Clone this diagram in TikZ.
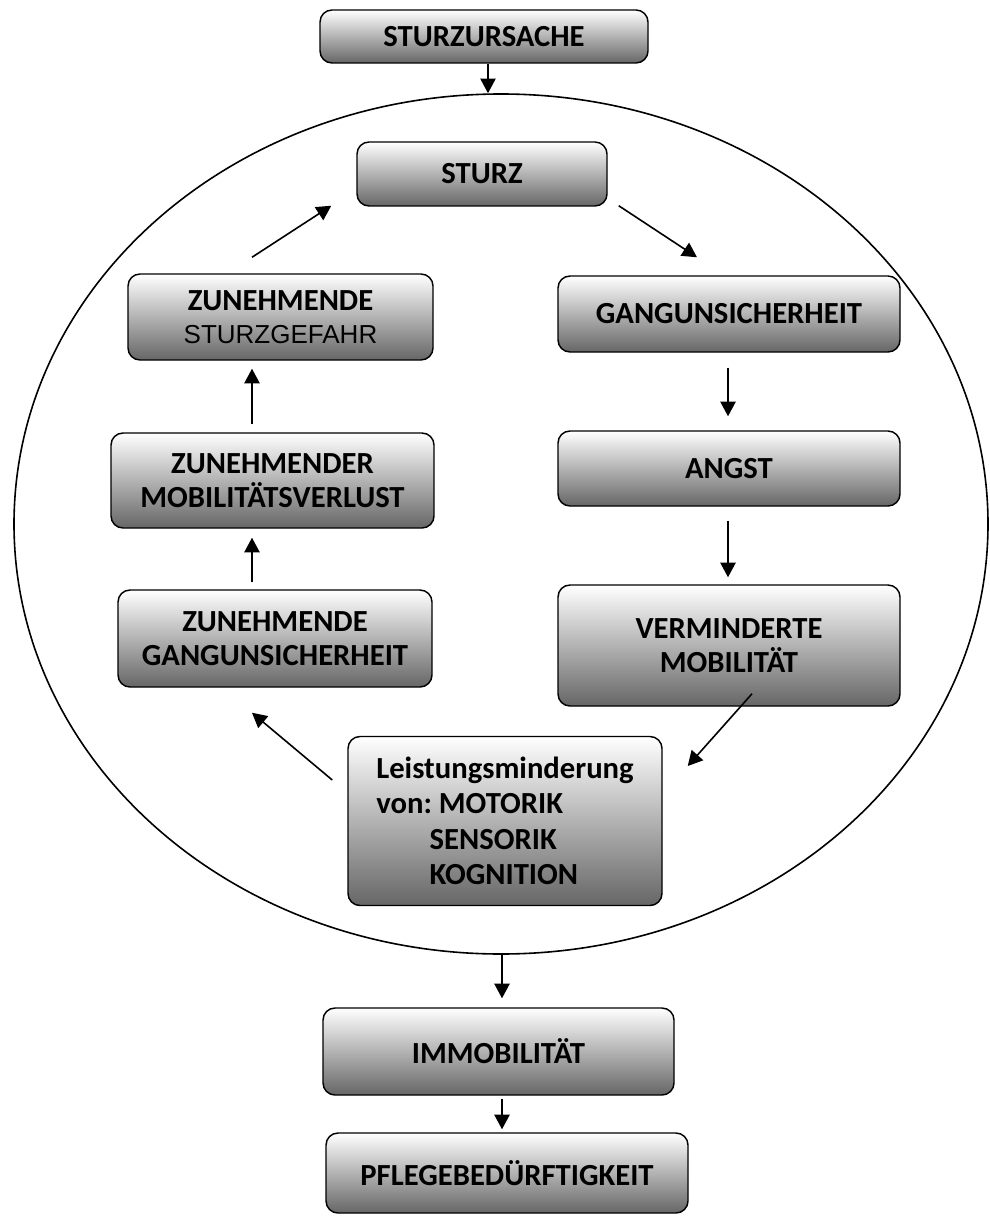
\documentclass[tikz,border=0pt]{standalone}
\usepackage{fontspec}
\setmainfont{Carlito}
\newfontfamily\arialfont{Liberation Sans}
\usetikzlibrary{calc,arrows.meta,shapes.geometric}
\frenchspacing
\colorlet{boxtop}{white}
\colorlet{boxmid}{black!24}
\colorlet{boxbot}{black!60}

\begin{document}
\begin{tikzpicture}[x=0.75pt, y=-0.75pt,
    kasten/.style={draw=black, line width=1.1pt, rounded corners=9pt,
      top color=boxtop, middle color=boxmid, bottom color=boxbot,
      font=\fontsize{23}{25}\selectfont\bfseries, align=center, inner sep=0pt},
    pfeil/.style={-{Triangle[length=11pt,width=11.5pt]}, line width=1.2pt}]
      \useasboundingbox (0,0) rectangle (989,1216);
      % Circle of the cycle
      \node[ellipse, draw, line width=1.2pt, inner sep=0pt,
        minimum width=730.5pt, minimum height=645pt] (kreis) at (501,524) {};
      % Cause on top
      \node[kasten, minimum width=246pt, minimum height=39.75pt] (ursache) at (484,36.5) {STURZURSACHE};
      % Boxes in the cycle
      \node[kasten, minimum width=187.5pt, minimum height=48pt] (sturz) at (482,174) {STURZ};
      \node[kasten, minimum width=256.5pt, minimum height=57pt] (gang) at (729,314) {GANGUNSICHERHEIT};
      \node[kasten, minimum width=256.5pt, minimum height=56.25pt] (angst) at (729,468.5) {ANGST};
      \node[kasten, minimum width=256.5pt, minimum height=90.75pt] (vermind) at (729,645.5) {VERMINDERTE\\MOBILITÄT};
      \node[kasten, minimum width=235.5pt, minimum height=126.75pt, align=left,
        font=\fontsize{23}{26.5}\selectfont\bfseries] (leistung) at (505,821)
        {Leistungsminderung\\von: MOTORIK\\\hspace*{40pt}SENSORIK\\\hspace*{40pt}KOGNITION};
      \node[kasten, minimum width=235.5pt, minimum height=72.75pt] (zgang) at (275,638.5) {ZUNEHMENDE\\GANGUNSICHERHEIT};
      \node[kasten, minimum width=242.25pt, minimum height=71.25pt] (verlust) at (272.5,480.5) {ZUNEHMENDER\\MOBILITÄTSVERLUST};
      \node[kasten, minimum width=228.75pt, minimum height=64.5pt] (gefahr) at (280.5,317)
        {ZUNEHMENDE\\{\arialfont\mdseries\fontsize{19.5}{25}\selectfont STURZGEFAHR}};
      % Consequences below
      \node[kasten, minimum width=263.25pt, minimum height=65.25pt] (immo) at (498.5,1051.5) {IMMOBILITÄT};
      \node[kasten, minimum width=271.5pt, minimum height=60pt] (pflege) at (507,1173) {PFLEGEBEDÜRFTIGKEIT};
      % Arrows
      \draw[pfeil] (ursache.south -| 488,0) -- (kreis.north -| 488,0);
      \draw[pfeil] ($(sturz.south east)+(11,-1)$) -- ($(gang.north)+(-32,-18)$);
      \draw[pfeil] ($(gang.south)+(-1,15)$) -- ($(angst.north)+(-1,-14)$);
      \draw[pfeil] ($(angst.south)+(-1,14)$) -- ($(vermind.north)+(-1,-7)$);
      \draw[pfeil] ($(vermind.south)+(23,-13)$) -- ($(leistung.east)+(25,-55)$);
      \draw[pfeil] ($(leistung.west)+(-15,-41)$) -- ($(zgang.south)+(-23,25)$);
      \draw[pfeil] ($(zgang.north)+(-23,-7)$) -- ($(verlust.south)+(-20.5,9)$);
      \draw[pfeil] ($(verlust.north)+(-20.5,-8)$) -- ($(gefahr.south)+(-28.5,8)$);
      \draw[pfeil] ($(gefahr.north)+(-28.5,-16)$) -- ($(sturz.south west)+(-25,-1)$);
      \draw[pfeil] (kreis.south -| 502,0) -- ($(immo.north -| 502,0)+(0,-9)$);
      \draw[pfeil] ($(immo.south)+(3.5,3)$) -- ($(pflege.north)+(-5,-3)$);
\end{tikzpicture}
\end{document}
